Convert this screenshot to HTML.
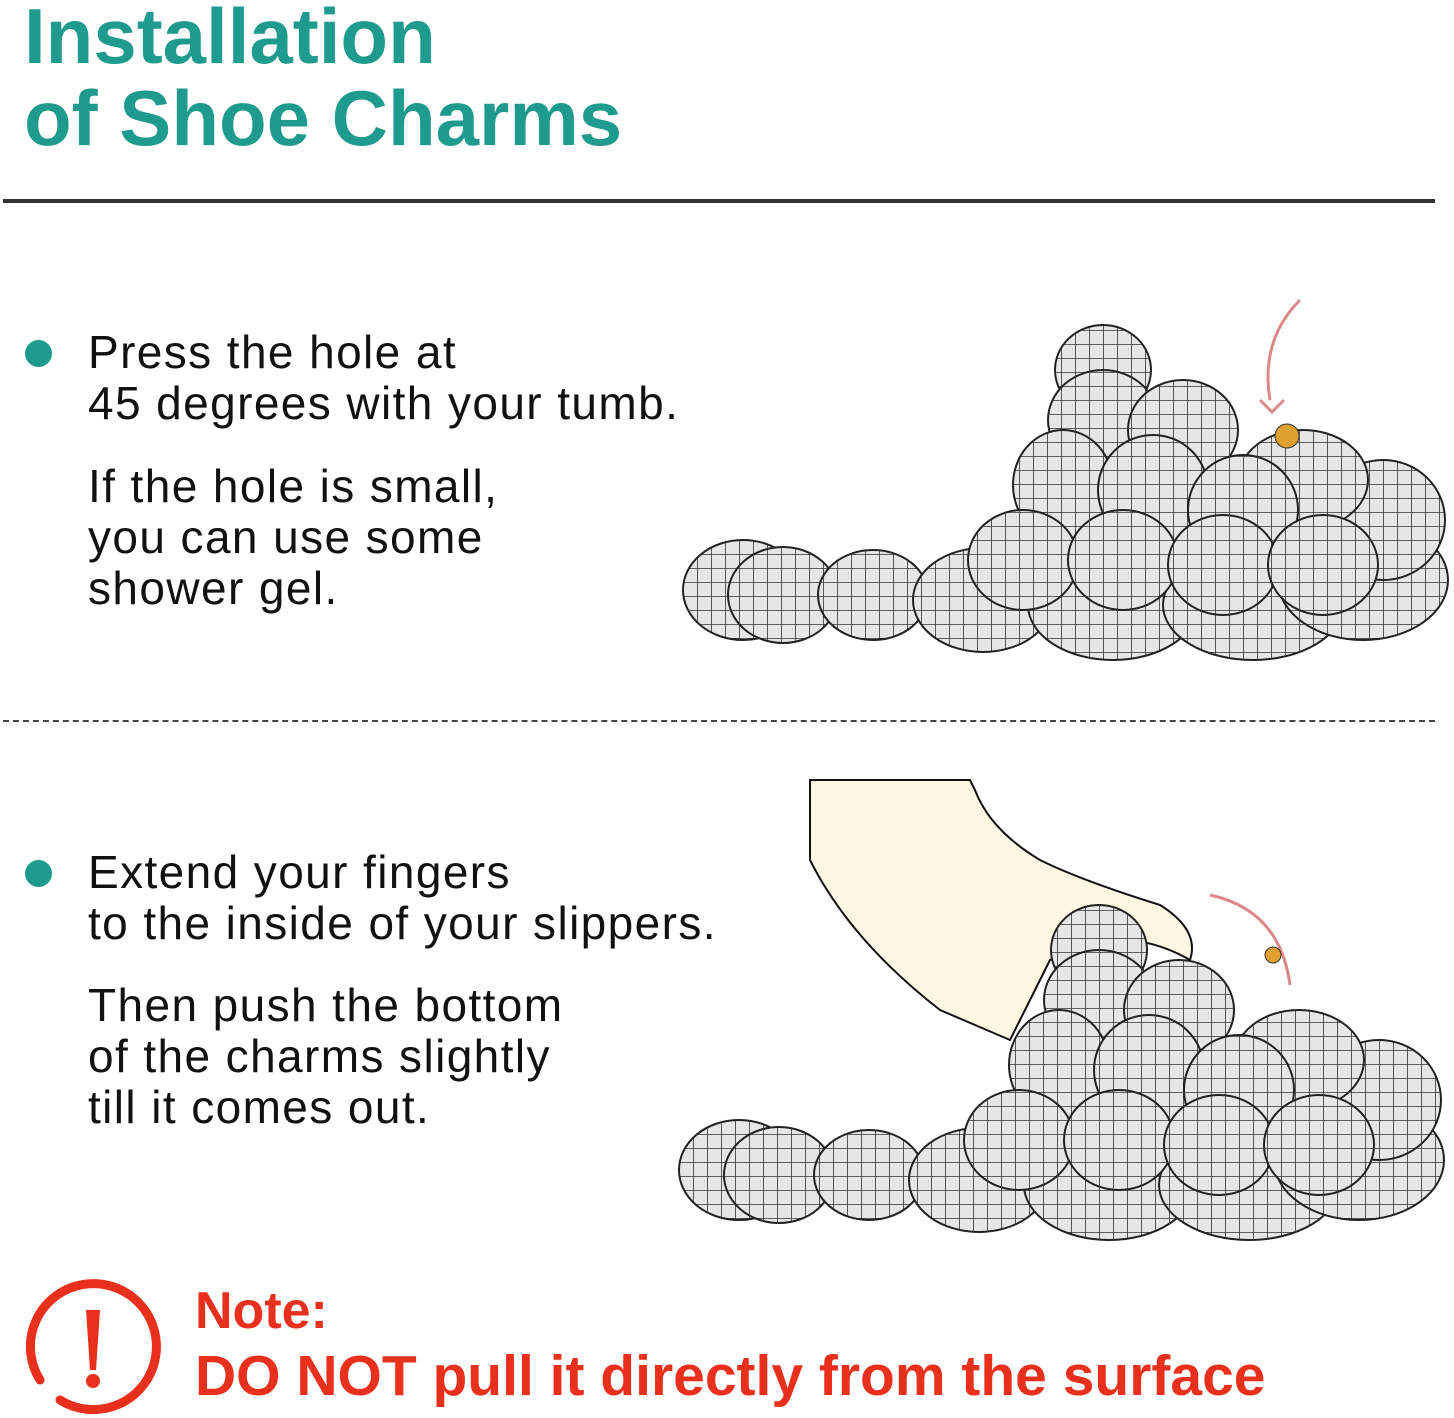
<!DOCTYPE html>
<html><head><meta charset="utf-8"><style>
html,body{margin:0;padding:0;background:#fff}
body{width:1454px;height:1418px;position:relative;overflow:hidden;font-family:"Liberation Sans",sans-serif}
.t{position:absolute;color:#1e9a8f;font-weight:bold;font-size:78px;line-height:80px;left:24px;white-space:nowrap}
.b{position:absolute;color:#111;font-size:46px;line-height:51px;left:88px;white-space:nowrap;letter-spacing:1.4px}
.dot{position:absolute;width:27px;height:27px;border-radius:50%;background:#1e9a8f}
.n{position:absolute;color:#e8301c;font-weight:bold;left:195px;white-space:nowrap}
</style></head><body>
<div class="t" style="top:-4px">Installation</div>
<div class="t" style="top:78px">of Shoe Charms</div>
<div style="position:absolute;left:3px;top:199px;width:1432px;height:4px;background:#333"></div>
<div style="position:absolute;left:3px;top:720px;width:1432px;border-top:2px dashed #444"></div>

<div class="dot" style="left:25px;top:340px"></div>
<div class="b" style="top:327px">Press the hole at<br>45 degrees with your tumb.</div>
<div class="b" style="top:461px">If the hole is small,<br>you can use some<br>shower gel.</div>

<div class="dot" style="left:25px;top:860px"></div>
<div class="b" style="top:847px">Extend your fingers<br>to the inside of your slippers.</div>
<div class="b" style="top:980px">Then push the bottom<br>of the charms slightly<br>till it comes out.</div>

<svg style="position:absolute;left:0;top:0" width="1454" height="1418">
<defs>
<pattern id="g" width="14" height="14" patternUnits="userSpaceOnUse">
<rect width="14" height="14" fill="#e6e6e6"/>
<path d="M0 0H14M0 0V14" stroke="#333" stroke-width="1.6"/>
</pattern>
<g id="slip">
<g fill="url(#g)" stroke="#222" stroke-width="2">
<ellipse cx="60" cy="50" rx="60" ry="50"/>
<ellipse cx="100" cy="55" rx="55" ry="48"/>
<ellipse cx="190" cy="55" rx="55" ry="45"/>
<ellipse cx="300" cy="60" rx="70" ry="52"/>
<ellipse cx="430" cy="65" rx="85" ry="55"/>
<ellipse cx="570" cy="65" rx="90" ry="55"/>
<ellipse cx="680" cy="40" rx="85" ry="60"/>
<ellipse cx="700" cy="-20" rx="62" ry="60"/>
<ellipse cx="620" cy="-60" rx="65" ry="50"/>
<ellipse cx="420" cy="-170" rx="48" ry="45"/>
<ellipse cx="420" cy="-120" rx="55" ry="50"/>
<ellipse cx="500" cy="-110" rx="55" ry="50"/>
<ellipse cx="380" cy="-55" rx="50" ry="55"/>
<ellipse cx="470" cy="-50" rx="55" ry="55"/>
<ellipse cx="560" cy="-30" rx="55" ry="55"/>
<ellipse cx="340" cy="20" rx="55" ry="50"/>
<ellipse cx="440" cy="20" rx="55" ry="50"/>
<ellipse cx="540" cy="25" rx="55" ry="50"/>
<ellipse cx="640" cy="25" rx="55" ry="50"/>
</g></g>
</defs>
<use href="#slip" transform="translate(683,540)"/>
<circle cx="1287" cy="436" r="12" fill="#e0a030" stroke="#333"/>
<path d="M1270 400 Q1260 340 1300 300" fill="none" stroke="#d88" stroke-width="3"/>
<path d="M1260 400 l12 12 l12 -12" fill="none" stroke="#d88" stroke-width="3"/>

<path d="M810 780 L810 860 Q850 940 940 1010 L1010 1040 L1050 960 Q1120 920 1190 960 Q1200 930 1160 905 Q1080 880 1040 860 Q990 830 975 790 L970 780 Z" fill="#fbf7e3" stroke="#111" stroke-width="2"/>
<use href="#slip" transform="translate(679,1120)"/>
<path d="M1290 985 Q1280 910 1210 895" fill="none" stroke="#d88" stroke-width="3"/>
<circle cx="1273" cy="955" r="8" fill="#e0a030" stroke="#333"/>

<g fill="none" stroke="#e8301c" stroke-width="9" stroke-linecap="round">
<path d="M40 1380 A63 63 0 1 1 60 1400"/>
</g>
<path d="M86 1310 L100 1310 L96 1370 L90 1370 Z" fill="#e8301c"/>
<circle cx="93" cy="1381" r="7" fill="#e8301c"/>
</svg>

<div class="n" style="top:1281px;font-size:52px;line-height:60px">Note:</div>
<div class="n" style="top:1344px;font-size:57px;line-height:64px">DO NOT pull it directly from the surface</div>
</body></html>
